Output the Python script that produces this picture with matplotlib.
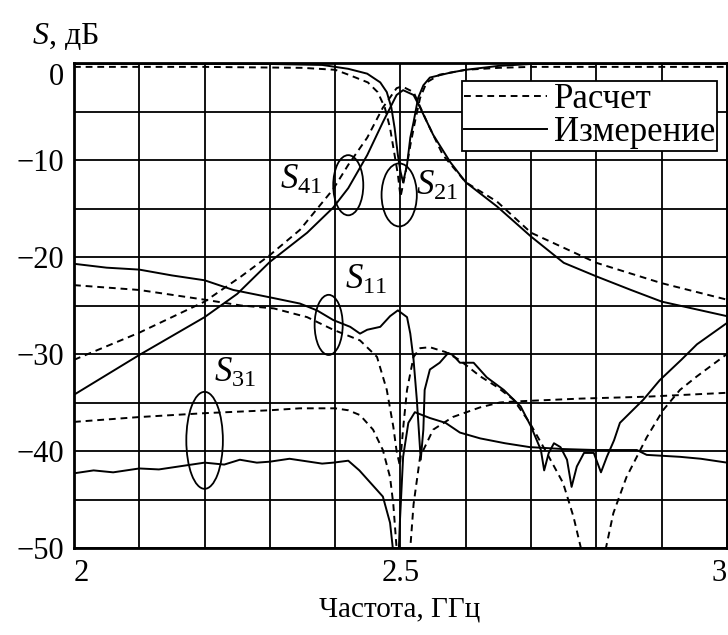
import numpy as np
import matplotlib
matplotlib.use("Agg")
import matplotlib.pyplot as plt
from matplotlib.patches import Ellipse

plt.rcParams['font.family'] = ['Liberation Serif', 'DejaVu Serif']
plt.rcParams['mathtext.fontset'] = 'custom'
plt.rcParams['mathtext.rm'] = 'Liberation Serif'
plt.rcParams['mathtext.it'] = 'Liberation Serif:italic'

# ---- S21: calculated / measured ----
f_s21_calc = [2.0, 2.2, 2.35, 2.40, 2.42, 2.45, 2.465, 2.476, 2.484, 2.491, 2.496, 2.500,
              2.504, 2.51, 2.515, 2.522, 2.53, 2.54, 2.56, 2.60, 2.65, 2.70, 2.8, 3.0]
s21_calc = [-0.4, -0.4, -0.5, -0.7, -1.2, -2.0, -3.0, -4.6, -6.7, -9.5, -11.5, -13.8,
            -12.5, -10.5, -8.5, -6.1, -3.6, -2.0, -1.2, -0.7, -0.5, -0.4, -0.4, -0.4]

f_s21_meas = [2.0, 2.3, 2.38, 2.42, 2.449, 2.469, 2.479, 2.486, 2.491, 2.496, 2.5, 2.504,
              2.51, 2.515, 2.52, 2.527, 2.535, 2.545, 2.576, 2.60, 2.65, 2.70, 3.0]
s21_meas = [-0.1, -0.1, -0.2, -0.6, -1.1, -2.0, -3.0, -4.6, -6.7, -9.5, -11.2, -12.3,
            -10.5, -7.7, -6.1, -3.6, -2.3, -1.5, -1.0, -0.7, -0.3, -0.1, -0.1]

# ---- S41 ----
f_s41_calc = [2.0, 2.1, 2.2, 2.256, 2.3, 2.346, 2.397, 2.42, 2.449, 2.473, 2.494, 2.502,
              2.52, 2.54, 2.565, 2.60, 2.648, 2.70, 2.80, 2.90, 3.0]
s41_calc = [-30.6, -27.8, -24.6, -22.0, -19.8, -17.2, -13.0, -10.5, -7.7, -4.6, -2.6, -2.4,
            -3.0, -6.0, -9.5, -12.3, -14.3, -17.5, -20.6, -22.7, -24.4]

f_s41_meas = [2.0, 2.1, 2.2, 2.25, 2.3, 2.357, 2.397, 2.42, 2.449, 2.473, 2.494, 2.504,
              2.52, 2.53, 2.55, 2.576, 2.60, 2.648, 2.70, 2.75, 2.80, 2.853, 2.90, 3.0]
s41_meas = [-34.2, -30.1, -26.2, -23.8, -20.5, -17.5, -14.9, -12.9, -9.5, -6.1, -3.3, -2.8,
            -3.3, -4.6, -7.4, -10.2, -12.3, -14.8, -17.9, -20.6, -22.0, -23.4, -24.6, -26.1]

# ---- S11 ----
f_s11_calc = [2.0, 2.1, 2.2, 2.256, 2.306, 2.357, 2.397, 2.438, 2.464, 2.479, 2.489, 2.494,
              2.499, 2.505, 2.51, 2.52, 2.53, 2.545, 2.569, 2.59, 2.622, 2.648, 2.673,
              2.698, 2.724, 2.749, 2.765, 2.778, 2.79, 2.805, 2.813, 2.826, 2.846, 2.877,
              2.902, 2.928, 2.954, 3.0]
s11_calc = [-22.9, -23.4, -24.4, -25.0, -25.3, -26.2, -27.5, -28.6, -30.3, -33.7, -37.5, -40.0,
            -41.5, -37.0, -33.7, -30.3, -29.4, -29.3, -29.8, -30.6, -32.3, -33.4, -34.7,
            -37.1, -40.2, -43.3, -46.8, -50.5, -54.0, -54.0, -50.5, -46.4, -42.7, -38.6,
            -35.8, -33.7, -32.3, -30.0]

f_s11_meas = [2.0, 2.05, 2.1, 2.15, 2.2, 2.244, 2.303, 2.346, 2.372, 2.397, 2.423, 2.438,
              2.449, 2.469, 2.484, 2.496, 2.51, 2.515, 2.52, 2.525, 2.531, 2.535, 2.537,
              2.545, 2.56, 2.573, 2.58, 2.591, 2.612, 2.632, 2.658, 2.684, 2.70, 2.715,
              2.72, 2.727, 2.735, 2.745, 2.755, 2.762, 2.77, 2.781, 2.796, 2.807, 2.816,
              2.827, 2.836, 2.872, 2.897, 2.93, 2.954, 3.0]
s11_meas = [-20.7, -21.1, -21.3, -21.9, -22.4, -23.4, -24.2, -24.8, -25.5, -26.5, -27.2, -27.9,
            -27.5, -27.2, -26.1, -25.5, -26.2, -27.9, -30.6, -34.7, -40.9, -37.8, -33.7,
            -31.6, -30.9, -29.9, -30.1, -30.9, -30.9, -32.4, -33.7, -35.4, -37.5, -39.9,
            -42.0, -40.2, -39.2, -39.6, -40.9, -43.7, -41.6, -40.2, -40.2, -42.2, -40.6,
            -38.9, -37.1, -34.7, -32.7, -30.6, -29.0, -26.8]

# ---- S31 ----
f_s31_calc = [2.0, 2.1, 2.2, 2.3, 2.346, 2.40, 2.42, 2.438, 2.458, 2.473, 2.484, 2.489,
              2.494, 2.50, 2.508, 2.515, 2.52, 2.53, 2.55, 2.58, 2.622, 2.652, 2.673,
              2.775, 2.877, 3.0]
s31_calc = [-37.0, -36.5, -36.1, -35.8, -35.6, -35.6, -35.8, -36.3, -37.8, -39.9, -42.7, -45.5,
            -50.0, -55.0, -55.0, -50.0, -45.5, -40.6, -37.8, -36.5, -35.5, -35.0, -34.9,
            -34.6, -34.4, -34.0]

f_s31_meas = [2.0, 2.03, 2.06, 2.1, 2.13, 2.17, 2.2, 2.23, 2.254, 2.28, 2.3, 2.33, 2.35,
              2.38, 2.397, 2.42, 2.437, 2.473, 2.484, 2.489, 2.493, 2.497, 2.499, 2.504,
              2.512, 2.522, 2.545, 2.569, 2.591, 2.622, 2.66, 2.698, 2.75, 2.80, 2.862,
              2.877, 2.928, 2.96, 3.0]
s31_meas = [-42.3, -42.0, -42.2, -41.8, -41.9, -41.5, -41.2, -41.4, -40.9, -41.2, -41.1, -40.8,
            -41.0, -41.3, -41.2, -41.0, -42.0, -44.7, -47.4, -50.5, -53.0, -51.0, -47.4, -40.6,
            -37.1, -36.0, -36.6, -37.1, -38.1, -38.7, -39.2, -39.6, -39.8, -39.9, -39.9,
            -40.4, -40.6, -40.8, -41.2]

# ---- labels ----
xticks = [2.0, 2.5, 3.0]
xtick_labels = ['2', '2.5', '3']
yticks = [0, -10, -20, -30, -40, -50]
ytick_labels = ['0', '\u221210', '\u221220', '\u221230', '\u221240', '\u221250']

fig = plt.figure(figsize=(7.28, 6.35), dpi=100)
ax = fig.add_axes([74 / 728, 87 / 635, 653 / 728, 485 / 635])

dash = (0, (3.5, 2.5))
lw = 1.4
ax.plot(f_s21_calc, s21_calc, color='black', lw=lw, ls=dash)
ax.plot(f_s21_meas, s21_meas, color='black', lw=lw)
ax.plot(f_s41_calc, s41_calc, color='black', lw=lw, ls=dash)
ax.plot(f_s41_meas, s41_meas, color='black', lw=lw)
ax.plot(f_s11_calc, s11_calc, color='black', lw=lw, ls=dash)
ax.plot(f_s11_meas, s11_meas, color='black', lw=lw)
ax.plot(f_s31_calc, s31_calc, color='black', lw=lw, ls=dash, label='Расчет')
ax.plot(f_s31_meas, s31_meas, color='black', lw=lw, label='Измерение')

ax.set_xlim(2, 3)
ax.set_ylim(-50, 0)

ax.set_xticks(xticks)
ax.set_xticklabels(xtick_labels)
ax.set_xticks(np.arange(2.0, 3.001, 0.1), minor=True)
ax.set_yticks(yticks)
ax.set_yticklabels(ytick_labels)
ax.set_yticks(np.arange(-50, 0.1, 5), minor=True)
ax.tick_params(which='both', length=0, labelsize=22, colors='black')
ax.tick_params(axis='y', pad=7)
ax.tick_params(axis='x', pad=8)
xl = ax.get_xticklabels()
xl[0].set_ha('left')
xl[-1].set_ha('right')
# the zero label sits just under the top edge
ax.get_yticklabels()[0].set_va('top')

ax.grid(which='both', color='black', lw=1.3)
ax.set_axisbelow(True)
for sp in ax.spines.values():
    sp.set_linewidth(2)

# legend
leg = ax.legend(loc='upper right', bbox_to_anchor=(0.985, 0.962), fontsize=25,
                frameon=True, fancybox=False, framealpha=1, edgecolor='black',
                handlelength=2.4, handletextpad=0.2, borderpad=0.05, labelspacing=0.0,
                borderaxespad=0)
leg.get_frame().set_linewidth(1.3)

# ellipses around curve groups
for cx, cy, w, h in [(2.42, -12.6, 0.046, 6.2), (2.498, -13.6, 0.054, 6.5),
                     (2.39, -27.0, 0.043, 6.2), (2.2, -38.9, 0.056, 10.0)]:
    ax.add_patch(Ellipse((cx, cy), w, h, fill=False, edgecolor='black', lw=1.3, zorder=5))

for x, y, s in [(2.348, -12.1, '$S_{41}$'), (2.556, -12.7, '$S_{21}$'),
                (2.447, -22.4, '$S_{11}$'), (2.246, -32.0, '$S_{31}$')]:
    ax.text(x, y, s, fontsize=25, ha='center', va='center', color='black', zorder=6)

fig.text(32 / 728, 1 - 36 / 635, '$S$, дБ', fontsize=23, ha='left', va='center')
fig.text(400 / 728, 1 - 610 / 635, 'Частота, ГГц', fontsize=21, ha='center', va='center')

fig.savefig('out.png', dpi=100)
